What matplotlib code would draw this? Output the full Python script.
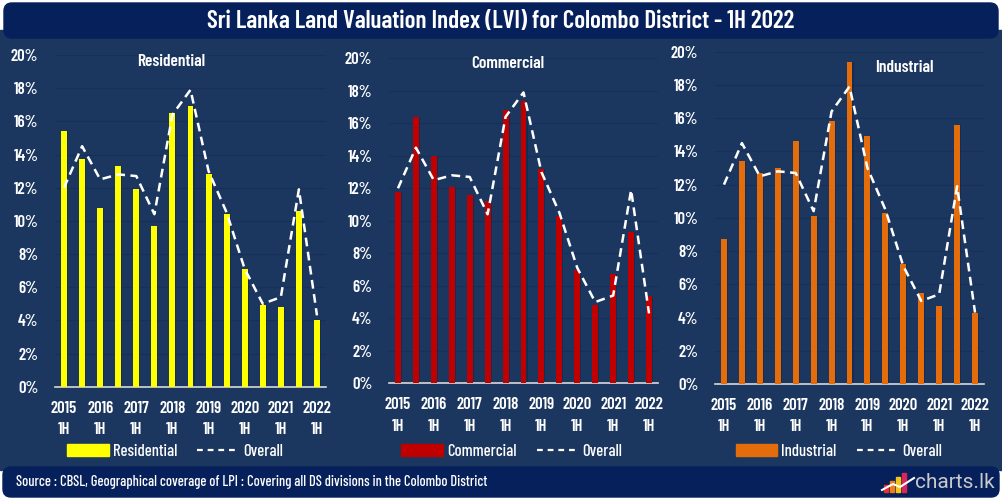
import numpy as np
import matplotlib
matplotlib.use('Agg')
import matplotlib.pyplot as plt
from matplotlib.patches import FancyBboxPatch, Rectangle, Patch
from matplotlib.lines import Line2D

FONT = ['Barlow Condensed', 'Roboto Condensed', 'DejaVu Sans']
plt.rcParams['font.family'] = FONT

# 2015 1H ... 2022 1H, half-yearly
periods = ['2015 1H', '2015 2H', '2016 1H', '2016 2H', '2017 1H', '2017 2H', '2018 1H', '2018 2H',
           '2019 1H', '2019 2H', '2020 1H', '2020 2H', '2021 1H', '2021 2H', '2022 1H']
tick_labels = ['2015\n1H', '2016\n1H', '2017\n1H', '2018\n1H', '2019\n1H', '2020\n1H', '2021\n1H', '2022\n1H']

overall = [12.0, 14.5, 12.5, 12.8, 12.7, 10.4, 16.4, 17.9, 13.0, 10.5, 7.1, 5.0, 5.4, 11.9, 4.3]
residential = [15.4, 13.7, 10.8, 13.3, 11.9, 9.7, 16.5, 16.9, 12.8, 10.4, 7.1, 4.9, 4.8, 10.6, 4.0]
commercial = [11.8, 16.4, 14.0, 12.1, 11.6, 11.2, 16.8, 17.4, 13.2, 10.3, 7.0, 4.8, 6.7, 9.3, 5.4]
industrial = [8.7, 13.4, 12.7, 13.0, 14.6, 10.1, 15.8, 19.4, 14.9, 10.3, 7.2, 5.5, 4.7, 15.6, 4.3]

BG = '#1b375f'
NAVY = '#06205c'
W, H = 1002, 500

fig = plt.figure(figsize=(W / 100, H / 100), dpi=100, facecolor='white')

# background canvas in pixel coordinates
bg = fig.add_axes([0, 0, 1, 1])
bg.set_xlim(0, W)
bg.set_ylim(H, 0)
bg.axis('off')
bg.add_patch(Rectangle((0, 30), W, 440, color=BG, zorder=0))
bg.add_patch(FancyBboxPatch((4, 3), W - 8, 35, boxstyle='round,pad=0,rounding_size=8',
                            color=NAVY, zorder=1))
bg.add_patch(FancyBboxPatch((3, 467), W - 6, 30, boxstyle='round,pad=0,rounding_size=8',
                            color=NAVY, zorder=1))
bg.text(W / 2, 21, 'Sri Lanka Land Valuation Index (LVI) for Colombo District - 1H 2022',
        ha='center', va='center', color='white', fontsize=18, fontweight='semibold')
bg.text(16, 482, 'Source : CBSL, Geographical coverage of LPI : Covering all DS divisions in the Colombo District',
        ha='left', va='center', color='white', fontsize=10.4, fontweight='medium')
# charts.lk logo
for i, (c, h) in enumerate(zip(['#e8312a', '#f07d1a', '#f5c518', '#d9265b'], [7, 11, 15, 19])):
    bg.add_patch(Rectangle((884 + i * 6, 492 - h), 4.5, h, color=c, zorder=2))
bg.plot([882, 893, 900, 914], [490, 484, 487, 478], color='white', lw=1.5, zorder=3)
bg.text(915, 482, 'charts.lk', ha='left', va='center', color='#c9c9c9', fontsize=15,
        family=['Roboto', 'DejaVu Sans'])

panels = [
    ('Residential', residential, '#ffff00', [55, 386.7, 326, 55], (171, 61), 175),
    ('Commercial', commercial, '#c00000', [389, 383.3, 658, 58.3], (508, 63), 512),
    ('Industrial', industrial, '#e46c0a', [715, 384, 984, 51.7], (904, 67), 839),
]

x = np.arange(len(periods))
for name, vals, color, (x0, y0, x1, y1), (tx, ty), lx in panels:
    ax = fig.add_axes([x0 / W, 1 - y0 / H, (x1 - x0) / W, (y0 - y1) / H])
    ax.patch.set_alpha(0)
    ax.bar(x + 0.06, vals, width=0.33, color='#0f2340', alpha=0.45, zorder=2)  # soft shadow
    ax.bar(x, vals, width=0.33, color=color, zorder=3)
    ax.plot(x, overall, color='white', lw=1.8, dashes=(3.5, 2.2), zorder=4)
    ax.set_xlim(-0.5, 14.5)
    ax.set_ylim(0, 20)
    ax.set_yticks(np.arange(0, 21, 2))
    ax.set_yticklabels([f'{v}%' for v in range(0, 21, 2)])
    ax.set_xticks(x[::2])
    ax.set_xticklabels(tick_labels, linespacing=1.55)
    ax.grid(axis='y', color='#16305a', lw=0.9, zorder=0)
    for s in ['top', 'right', 'left']:
        ax.spines[s].set_visible(False)
    ax.spines['bottom'].set_color('#d9d9d9')
    ax.spines['bottom'].set_linewidth(1.2)
    ax.tick_params(length=0, colors='white', labelsize=12)
    ax.tick_params(axis='x', pad=10)
    ax.tick_params(axis='y', pad=12)
    for lab in ax.get_xticklabels() + ax.get_yticklabels():
        lab.set_fontweight('semibold')
    fig.text(tx / W, 1 - ty / H, name, ha='center', va='center', color='white',
             fontsize=12.5, fontweight='semibold')
    handles = [Patch(color=color, label=name),
               Line2D([], [], color='white', lw=1.6, dashes=(2.6, 2.2), label='Overall')]
    leg = fig.legend(handles=handles, loc='center', bbox_to_anchor=(lx / W, 1 - 451 / H),
                     ncol=2, frameon=False, handlelength=2.5, handleheight=0.7,
                     handletextpad=0.25, columnspacing=1.2, borderpad=0,
                     prop={'weight': 'medium', 'size': 12})
    for t in leg.get_texts():
        t.set_color('white')

fig.savefig('out.png', dpi=100, facecolor='white')
